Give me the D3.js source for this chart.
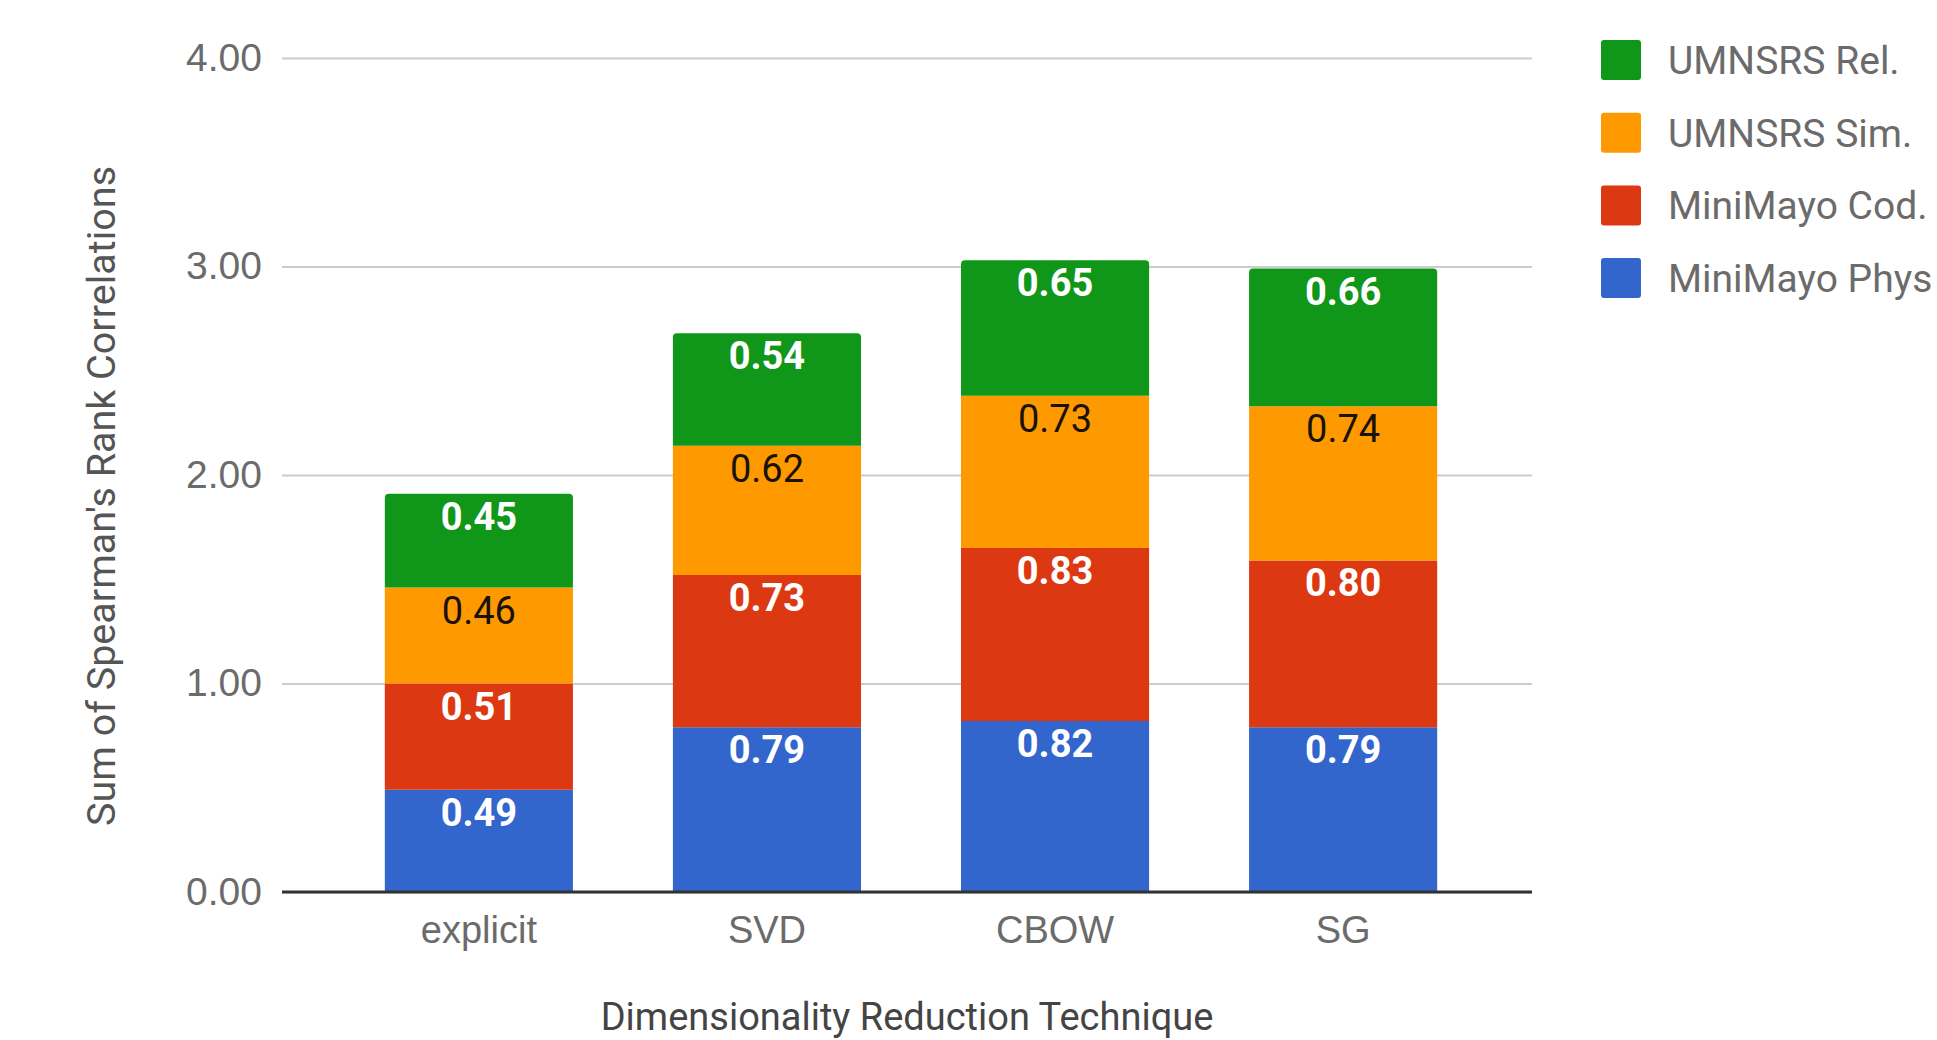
<!DOCTYPE html>
<html>
<head>
<meta charset="utf-8">
<script src="https://cdn.jsdelivr.net/npm/d3@7"></script>
<style>
  html, body { margin: 0; padding: 0; background: #fff; overflow: hidden; }
  svg { display: block; font-family: Roboto, "Noto Sans", sans-serif; }
</style>
</head>
<body>
<svg id="chart" width="1937" height="1040"></svg>
<script>
// Dimensionality reduction techniques compared
const categories = ["explicit", "SVD", "CBOW", "SG"];

// Stacked series, bottom to top
const seriesNames = ["MiniMayo Phys", "MiniMayo Cod.", "UMNSRS Sim.", "UMNSRS Rel."];
const miniMayoPhys = [0.49, 0.79, 0.82, 0.79];
const miniMayoCod  = [0.51, 0.73, 0.83, 0.80];
const umnsrsSim    = [0.46, 0.62, 0.73, 0.74];
const umnsrsRel    = [0.45, 0.54, 0.65, 0.66];

const yTicks = [0, 1, 2, 3, 4];
const legendOrder = ["UMNSRS Rel.", "UMNSRS Sim.", "MiniMayo Cod.", "MiniMayo Phys"];

const colors = {
  "MiniMayo Phys": "#3366cc",
  "MiniMayo Cod.": "#dc3912",
  "UMNSRS Sim.":   "#ff9900",
  "UMNSRS Rel.":   "#109618"
};
const labelStyle = {
  "MiniMayo Phys": { fill: "#ffffff", weight: 700 },
  "MiniMayo Cod.": { fill: "#ffffff", weight: 700 },
  "UMNSRS Sim.":   { fill: "#1a1208", weight: 400 },
  "UMNSRS Rel.":   { fill: "#ffffff", weight: 700 }
};

const rows = categories.map((c, i) => ({
  category: c,
  "MiniMayo Phys": miniMayoPhys[i],
  "MiniMayo Cod.": miniMayoCod[i],
  "UMNSRS Sim.": umnsrsSim[i],
  "UMNSRS Rel.": umnsrsRel[i]
}));

const svg = d3.select("#chart");

const plot = { left: 282, right: 1532, top: 58, bottom: 892 };

const x = d3.scaleBand()
  .domain(categories)
  .range([plot.left + 4, plot.right + 4])
  .paddingInner(0.347)
  .paddingOuter(0.343);

const y = d3.scaleLinear()
  .domain([0, 4])
  .range([plot.bottom, plot.top]);

// Gridlines and tick labels
const yAxis = d3.axisLeft(y)
  .tickValues(yTicks)
  .tickSize(-(plot.right - plot.left))
  .tickPadding(20)
  .tickFormat(d3.format(".2f"));

const gy = svg.append("g")
  .attr("transform", `translate(${plot.left},0)`)
  .call(yAxis);
gy.select(".domain").remove();
gy.selectAll(".tick line")
  .attr("stroke", "#cccccc")
  .attr("stroke-width", 2);
gy.selectAll(".tick text")
  .attr("fill", "#6b6b6b")
  .attr("font-size", 39)
  .attr("x", -20);

// Stacked bars
const stack = d3.stack().keys(seriesNames);
const layers = stack(rows);
const topKey = seriesNames[seriesNames.length - 1];
const r = 4;

function segPath(x0, w, yTop, yBot, rounded) {
  if (!rounded) return `M${x0},${yBot}V${yTop}H${x0 + w}V${yBot}Z`;
  return `M${x0},${yBot}V${yTop + r}Q${x0},${yTop} ${x0 + r},${yTop}` +
         `H${x0 + w - r}Q${x0 + w},${yTop} ${x0 + w},${yTop + r}V${yBot}Z`;
}

const layerG = svg.append("g").selectAll("g")
  .data(layers)
  .join("g")
  .attr("fill", d => colors[d.key]);

layerG.selectAll("path")
  .data(d => d.map(p => ({ key: d.key, p })))
  .join("path")
  .attr("d", d => segPath(
    x(d.p.data.category), x.bandwidth(),
    y(d.p[1]), y(d.p[0]), d.key === topKey));

// Value labels inside the top of each segment
const labelG = svg.append("g");
layers.forEach(layer => {
  layer.forEach(p => {
    const st = labelStyle[layer.key];
    labelG.append("text")
      .attr("x", x(p.data.category) + x.bandwidth() / 2)
      .attr("y", y(p[1]) + 36)
      .attr("text-anchor", "middle")
      .attr("font-size", 38)
      .attr("font-weight", st.weight)
      .attr("fill", st.fill)
      .text((p[1] - p[0]).toFixed(2));
  });
});

// Baseline
svg.append("line")
  .attr("x1", plot.left).attr("x2", plot.right)
  .attr("y1", y(0)).attr("y2", y(0))
  .attr("stroke", "#333333")
  .attr("stroke-width", 3);

// Category labels
const xAxis = d3.axisBottom(x).tickSize(0).tickPadding(0);
const gx = svg.append("g")
  .attr("transform", `translate(0,${y(0)})`)
  .call(xAxis);
gx.select(".domain").remove();
gx.selectAll(".tick text")
  .attr("fill", "#6b6b6b")
  .attr("font-size", 38)
  .attr("dy", null)
  .attr("y", 51);

// Axis titles
svg.append("text")
  .attr("transform", "translate(115,496) rotate(-90)")
  .attr("text-anchor", "middle")
  .attr("font-size", 39.5)
  .attr("fill", "#555555")
  .text("Sum of Spearman's Rank Correlations");

svg.append("text")
  .attr("x", (plot.left + plot.right) / 2)
  .attr("y", 1030)
  .attr("text-anchor", "middle")
  .attr("font-size", 38)
  .attr("fill", "#444444")
  .text("Dimensionality Reduction Technique");

// Legend
const legend = svg.append("g").selectAll("g")
  .data(legendOrder)
  .join("g")
  .attr("transform", (d, i) => `translate(1601,${40 + i * 72.7})`);

legend.append("rect")
  .attr("width", 40).attr("height", 40)
  .attr("rx", 3)
  .attr("fill", d => colors[d]);

legend.append("text")
  .attr("x", 67)
  .attr("y", 34)
  .attr("font-size", 39)
  .attr("fill", "#6b6b6b")
  .text(d => d);
</script>
</body>
</html>
